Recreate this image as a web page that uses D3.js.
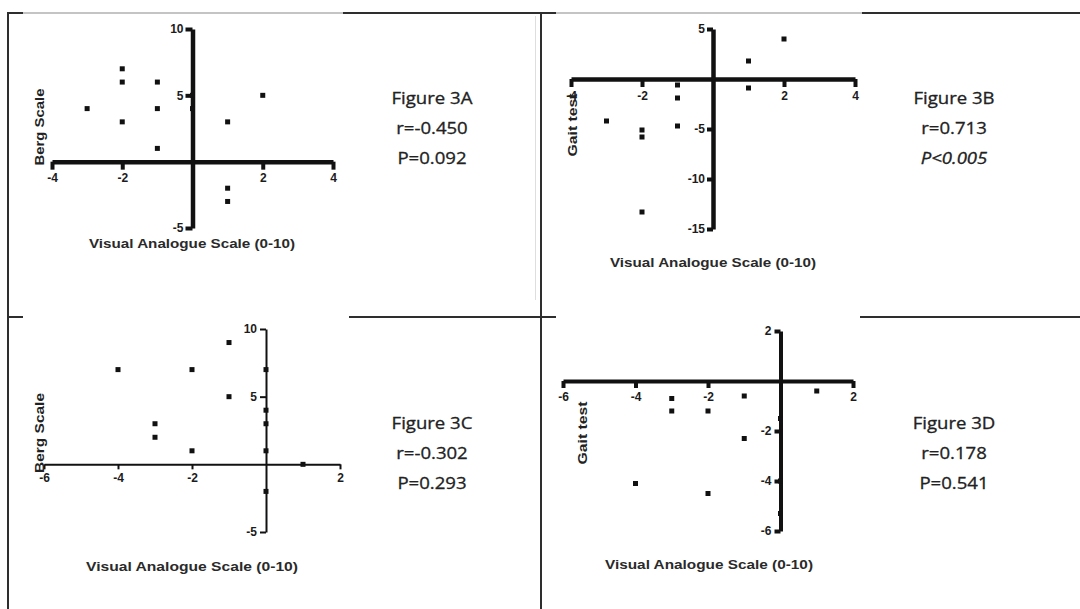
<!DOCTYPE html>
<html>
<head>
<meta charset="utf-8">
<script src="https://cdn.jsdelivr.net/npm/d3@7"></script>
<style>
  body { margin: 0; background: #fff; }
  svg { display: block; }
</style>
</head>
<body>
<div id="vis"></div>
<script>
// ---------- DATA ----------
// Figure 3A: Berg Scale vs Visual Analogue Scale
const vasA  = [-3, -2, -2, -2, -1, -1, -1, 0, 0, 1, 2, 1, 1];
const bergA = [ 4,  7,  6,  3,  6,  4,  1, 5, 4, 3, 5, -2, -3];

// Figure 3B: Gait test vs Visual Analogue Scale
const vasB  = [2, 1,   1,    -1,   -1,   -1,   -2,   -2,   -3,   -2];
const gaitB = [4, 1.8, -0.9, -0.6, -1.9, -4.7, -5.1, -5.8, -4.2, -13.3];

// Figure 3C: Berg Scale vs Visual Analogue Scale
const vasC  = [-1, -4, -2, -1, -3, -3, -2, 0, 0, 0, 0, 1, 0];
const bergC = [ 9,  7,  7,  5,  3,  2,  1, 7, 4, 3, 1, 0, -2];

// Figure 3D: Gait test vs Visual Analogue Scale
const vasD  = [1,    -1,   -3,   -3,   -2,   -1,   -4,   -2,   0,    0,  0];
const gaitD = [-0.4, -0.6, -0.7, -1.2, -1.2, -2.3, -4.1, -4.5, -1.5, -4, -5.3];

// tick values
const xTicksA = [-4, -2, 2, 4];
const yTicksA = [10, 5, -5];
const xTicksB = [-4, -2, 2, 4];
const yTicksB = [5, -5, -10, -15];
const xTicksC = [-6, -4, -2, 2];
const yTicksC = [10, 5, -5];
const xTicksD = [-6, -4, -2, 2];
const yTicksD = [2, -2, -4, -6];

// captions
const figNames = ["Figure 3A", "Figure 3B", "Figure 3C", "Figure 3D"];
const rValues  = ["r=-0.450", "r=0.713", "r=-0.302", "r=0.178"];
const pValues  = ["P=0.092", "P<0.005", "P=0.293", "P=0.541"];

const X_LABEL = "Visual Analogue Scale (0-10)";

// ---------- PAGE SETUP ----------
const FRAME_WIDTH = 1080;
const FRAME_HEIGHT = 609;
const DARK = "#2e2e2e";
const GREY = "#c4c4c4";
const AXIS_FONT = "'Liberation Sans', Arial, sans-serif";
const TEXT_FONT = "'Open Sans', 'Noto Sans', sans-serif";

const svg = d3.select("#vis")
  .append("svg")
  .attr("width", FRAME_WIDTH)
  .attr("height", FRAME_HEIGHT);

function hline(x1, x2, y, color, w) {
  svg.append("line").attr("x1", x1).attr("x2", x2).attr("y1", y).attr("y2", y)
    .attr("stroke", color).attr("stroke-width", w);
}
function vline(x, y1, y2, color, w) {
  svg.append("line").attr("x1", x).attr("x2", x).attr("y1", y1).attr("y2", y2)
    .attr("stroke", color).attr("stroke-width", w);
}

// table borders
hline(7, 1080, 13, DARK, 2);
hline(23, 343, 13, GREY, 2);
hline(556, 862, 13, GREY, 2);
vline(8, 12, 609, DARK, 2);
vline(541, 12, 609, DARK, 2);
hline(7, 23, 317, DARK, 2);
hline(349, 556, 317, DARK, 2);
hline(860, 1080, 317, DARK, 2);
vline(535.5, 16, 300, "#dedede", 1);

// ---------- PANELS ----------
const panels = [
  { xs: vasA, ys: bergA, xDomain: [-4, 4], yDomain: [-5, 10],
    xRange: [52, 333], yRange: [228, 29], xTicks: xTicksA, yTicks: yTicksA,
    axisW: 4.5, tickW: 4, xTickLen: 8, yTickLen: 7, yPad: 2,
    yLabel: "Berg Scale", yLabelPos: [39, 127], yLabelLen: 77,
    xLabelPos: [192, 248], xLabelLen: 206,
    statX: 432, statY: [104, 134, 164] },
  { xs: vasB, ys: gaitB, xDomain: [-4, 4], yDomain: [-15, 5],
    xRange: [571, 855], yRange: [229, 29], xTicks: xTicksB, yTicks: yTicksB,
    axisW: 4.5, tickW: 4, xTickLen: 8, yTickLen: 6, yPad: 2,
    yLabel: "Gait test", yLabelPos: [572, 125], yLabelLen: 63,
    xLabelPos: [713, 267], xLabelLen: 206,
    statX: 954, statY: [104, 134, 164] },
  { xs: vasC, ys: bergC, xDomain: [-6, 2], yDomain: [-5, 10],
    xRange: [44, 340], yRange: [532, 329], xTicks: xTicksC, yTicks: yTicksC,
    axisW: 2, tickW: 2, xTickLen: 5, yTickLen: 6, yPad: 3,
    yLabel: "Berg Scale", yLabelPos: [39, 433], yLabelLen: 80,
    xLabelPos: [192, 571], xLabelLen: 212,
    statX: 432, statY: [429, 459, 489] },
  { xs: vasD, ys: gaitD, xDomain: [-6, 2], yDomain: [-6, 2],
    xRange: [563, 853], yRange: [531, 331], xTicks: xTicksD, yTicks: yTicksD,
    axisW: 4, tickW: 4, xTickLen: 7, yTickLen: 6, yPad: 3,
    yLabel: "Gait test", yLabelPos: [582, 433], yLabelLen: 63,
    xLabelPos: [709, 569], xLabelLen: 208,
    statX: 954, statY: [429, 459, 489] }
];

function build_panel(p, i) {
  const x = d3.scaleLinear().domain(p.xDomain).range(p.xRange);
  const y = d3.scaleLinear().domain(p.yDomain).range(p.yRange);
  const fmt = d => String(d);

  const g = svg.append("g");

  // x axis through y = 0
  const xAxis = g.append("g")
    .attr("transform", `translate(0,${y(0)})`)
    .call(d3.axisBottom(x).tickValues(p.xTicks).tickFormat(fmt)
      .tickSize(p.xTickLen).tickSizeOuter(0).tickPadding(4));

  // y axis through x = 0
  const yAxis = g.append("g")
    .attr("transform", `translate(${x(0)},0)`)
    .call(d3.axisLeft(y).tickValues(p.yTicks).tickFormat(fmt)
      .tickSize(p.yTickLen).tickSizeOuter(0).tickPadding(p.yPad));

  [xAxis, yAxis].forEach(ax => {
    ax.select(".domain").attr("stroke", "#111").attr("stroke-width", p.axisW);
    ax.selectAll(".tick line").attr("stroke", "#111").attr("stroke-width", p.tickW);
    ax.selectAll(".tick text")
      .attr("fill", "#1c1c1c")
      .style("font-family", AXIS_FONT)
      .style("font-size", "12px")
      .style("font-weight", "bold");
  });

  // points
  const pts = p.xs.map((v, k) => ({ x: v, y: p.ys[k] }));
  const S = 5;
  g.append("g")
    .selectAll("rect")
    .data(pts)
    .enter()
    .append("rect")
      .attr("x", d => x(d.x) - S / 2)
      .attr("y", d => y(d.y) - S / 2)
      .attr("width", S)
      .attr("height", S)
      .attr("fill", "#111");

  // axis titles
  g.append("text")
    .attr("transform", `translate(${p.yLabelPos[0]},${p.yLabelPos[1]}) rotate(-90)`)
    .attr("dy", "0.35em")
    .attr("text-anchor", "middle")
    .attr("textLength", p.yLabelLen)
    .attr("lengthAdjust", "spacingAndGlyphs")
    .style("font-family", AXIS_FONT)
    .style("font-size", "13px")
    .style("font-weight", "bold")
    .attr("fill", "#222")
    .text(p.yLabel);

  g.append("text")
    .attr("x", p.xLabelPos[0])
    .attr("y", p.xLabelPos[1])
    .attr("text-anchor", "middle")
    .attr("textLength", p.xLabelLen)
    .attr("lengthAdjust", "spacingAndGlyphs")
    .style("font-family", AXIS_FONT)
    .style("font-size", "13px")
    .style("font-weight", "bold")
    .attr("fill", "#2a2a2a")
    .text(X_LABEL);

  // caption block
  const lines = [figNames[i], rValues[i], pValues[i]];
  lines.forEach((t, k) => {
    const txt = svg.append("text")
      .attr("x", p.statX)
      .attr("y", p.statY[k])
      .attr("text-anchor", "middle")
      .style("font-family", TEXT_FONT)
      .style("font-size", "16px")
      .attr("fill", "#222")
      .attr("stroke", "#222")
      .attr("stroke-width", 0.3)
      .text(t);
    if (t.indexOf("<") >= 0) txt.style("font-style", "italic");
    // the source image is stretched sideways, so widen the text to match
    const w = txt.node().getComputedTextLength();
    txt.attr("textLength", w * 1.16).attr("lengthAdjust", "spacingAndGlyphs");
  });
}

panels.forEach(build_panel);
</script>
</body>
</html>
